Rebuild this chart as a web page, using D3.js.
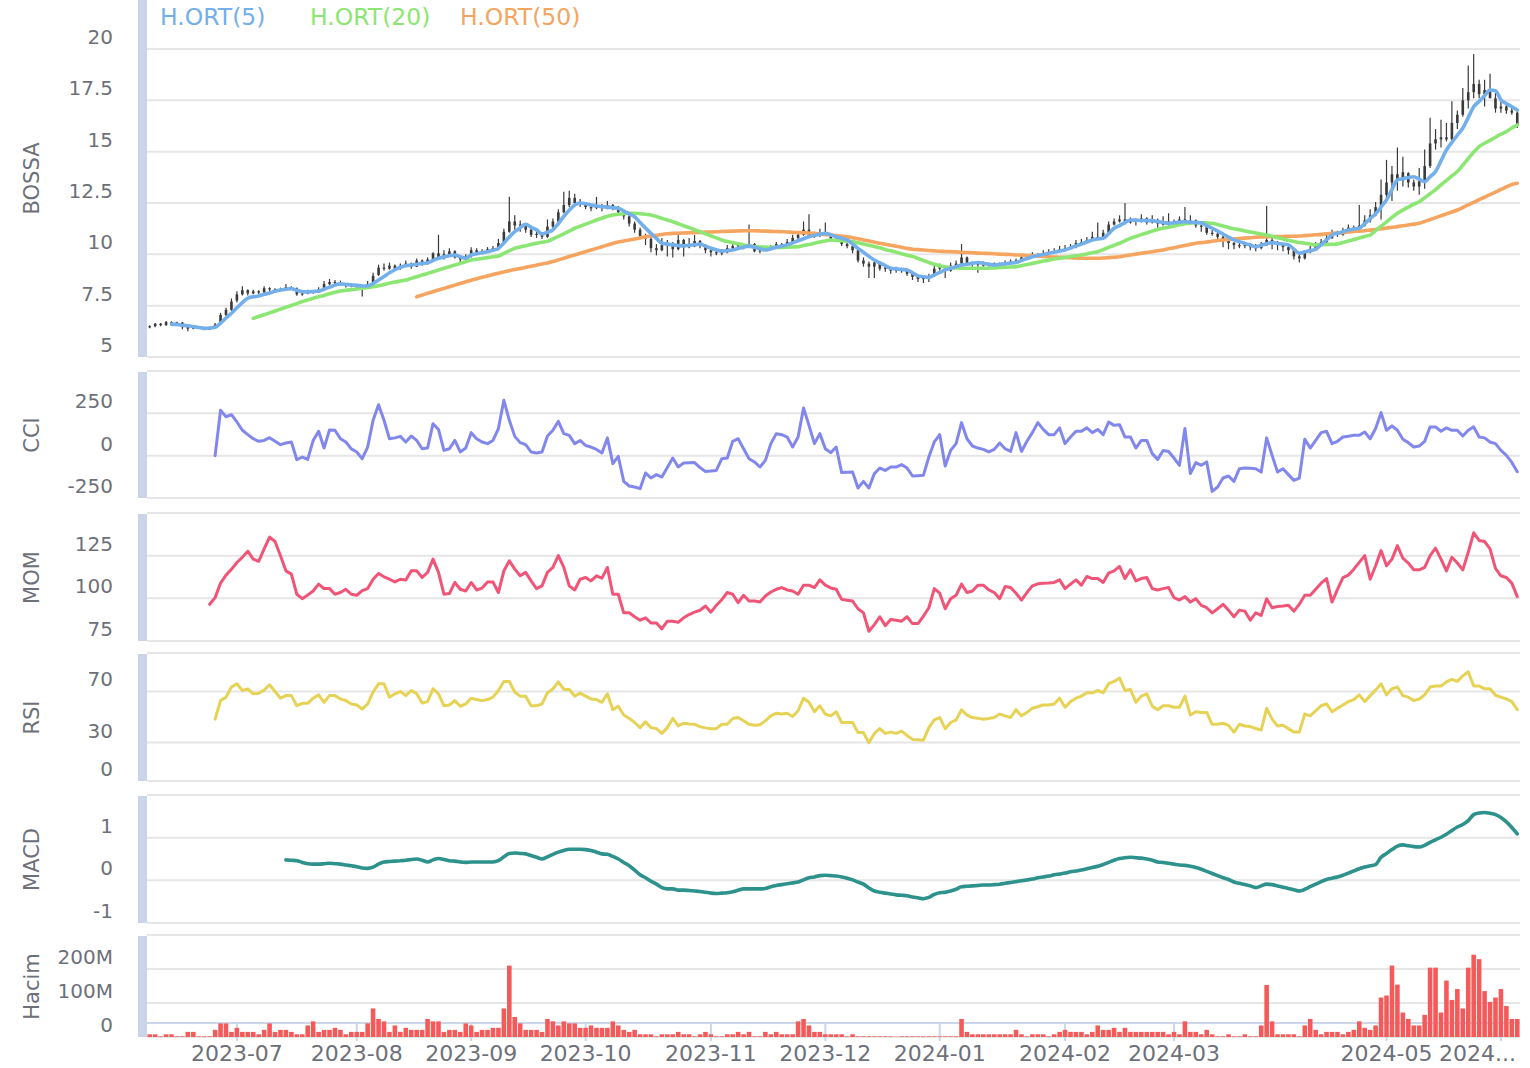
<!DOCTYPE html>
<html>
<head>
<meta charset="utf-8">
<script src="https://cdn.jsdelivr.net/npm/d3@7"></script>
<style>
body { margin: 0; background: #fff; }
#chart { width: 1530px; height: 1068px; }
text { font-family: "DejaVu Sans", sans-serif; }
</style>
</head>
<body>
<div id="chart"></div>
<script>
// ---- data (one entry per trading day, index 0 = first bar) ----
var opens = [
6.45,6.50,6.62,6.55,6.70,6.62,6.68,6.45,6.38,6.48, 6.42,6.35,6.40,6.60,7.05,7.30,7.75,8.05,8.25,8.10,
8.20,8.15,8.35,8.30,8.25,8.28,8.40,8.35,8.05,8.10, 8.20,8.15,8.30,8.55,8.65,8.60,8.55,8.45,8.50,8.40,
8.40,8.60,9.00,9.35,9.30,9.45,9.30,9.45,9.55,9.40, 9.70,9.55,9.75,10.05,9.80,10.00,10.15,9.85,9.75,9.90,
10.20,10.10,10.15,10.25,10.30,10.60,11.10,11.60,11.40,11.45, 11.20,10.95,11.00,10.85,11.35,11.60,12.05,12.40,12.75,12.50,
12.45,12.30,12.25,12.35,12.25,12.40,12.30,12.05,11.85,11.50, 11.20,10.90,10.75,10.30,10.20,10.45,10.55,10.25,10.70,10.35,
10.40,10.65,10.45,10.20,10.10,10.05,10.10,10.30,10.40,10.45, 10.35,10.50,10.15,10.20,10.25,10.35,10.50,10.45,10.60,10.80,
10.95,11.20,10.85,10.90,11.00,10.95,10.75,10.70,10.50,10.40, 10.20,9.70,9.55,9.40,9.60,9.30,9.35,9.20,9.30,9.25,
9.05,8.90,8.80,8.85,8.95,9.30,9.40,9.20,9.45,9.55, 9.85,9.55,9.50,9.60,9.45,9.50,9.55,9.50,9.60,9.65,
9.70,9.85,9.90,10.00,9.95,10.05,10.10,10.15,10.25,10.30, 10.35,10.55,10.60,10.70,10.85,10.75,11.05,11.45,11.60,11.70,
11.55,11.65,11.60,11.75,11.55,11.65,11.50,11.45,11.60,11.55, 11.70,11.50,11.65,11.40,11.35,11.05,11.00,10.85,10.70,10.55,
10.45,10.40,10.50,10.35,10.30,10.45,10.70,10.55,10.45,10.35, 10.20,9.90,9.80,10.10,10.25,10.50,10.60,10.80,11.05,10.95,
11.15,11.30,11.25,11.40,11.65,11.90,12.30,12.90,13.50,13.90, 13.60,13.95,13.50,13.30,13.55,14.30,15.40,15.60,15.70,15.60,
16.40,16.80,17.50,17.90,18.30,17.80,18.00,17.60,17.10,17.20, 17.00,16.90
];
var highs = [
6.55,6.65,6.66,6.75,6.74,6.72,6.70,6.50,6.52,6.50, 6.45,6.45,6.65,7.15,7.40,7.85,8.20,8.45,8.30,8.28,
8.25,8.45,8.40,8.35,8.38,8.55,8.45,8.38,8.20,8.28, 8.25,8.40,8.70,8.80,8.75,8.72,8.60,8.58,8.55,8.45,
8.70,9.10,9.50,9.55,9.60,9.50,9.55,9.70,9.60,9.80, 9.75,9.85,10.10,10.95,10.20,10.30,10.20,9.95,10.00,10.35,
10.30,10.25,10.35,10.40,10.75,11.25,12.80,11.90,11.65,11.50, 11.30,11.20,11.05,11.70,11.75,12.20,13.05,13.10,12.95,12.70,
12.55,12.40,12.80,12.45,12.60,12.45,12.35,12.10,11.95,11.60, 11.30,11.00,10.85,10.50,10.80,10.70,10.60,10.95,10.75,10.80,
10.95,10.70,10.50,10.30,10.20,10.25,10.45,10.55,10.60,10.50, 11.45,10.55,10.30,10.35,10.45,10.60,10.55,10.75,10.95,11.10,
11.60,11.95,11.10,11.25,11.55,11.00,10.95,10.75,10.60,10.45, 10.25,9.85,9.65,9.70,9.65,9.45,9.40,9.40,9.35,9.30,
9.10,8.95,8.95,9.05,9.45,9.55,9.45,9.60,9.70,10.50, 9.90,9.65,9.65,9.65,9.60,9.60,9.60,9.70,9.75,9.80,
9.90,10.00,10.10,10.05,10.20,10.25,10.30,10.40,10.45,10.50, 10.70,10.75,10.85,11.10,11.55,11.20,11.60,11.75,11.90,12.50,
11.80,11.75,11.95,11.80,11.90,11.75,11.85,12.00,11.70,11.85, 12.30,11.90,11.70,11.45,11.40,11.20,11.05,10.95,10.80,10.60,
10.55,10.60,10.55,10.50,10.60,12.35,10.80,10.65,10.55,10.40, 10.25,10.05,10.20,10.40,10.60,10.75,10.95,11.20,11.15,11.30,
11.45,11.40,12.40,11.90,12.20,12.55,13.65,14.60,14.30,15.20, 14.75,14.00,13.65,14.20,15.10,16.65,16.10,16.55,16.40,17.45,
17.00,18.10,19.20,19.76,18.50,18.50,18.80,17.85,17.50,17.35, 17.20,17.00
];
var lows = [
6.40,6.45,6.50,6.52,6.55,6.58,6.35,6.25,6.35,6.36, 6.30,6.32,6.38,6.58,7.00,7.25,7.65,8.00,8.00,8.05,
8.05,8.12,8.20,8.15,8.20,8.25,8.28,7.98,7.98,8.05, 8.08,8.12,8.28,8.50,8.52,8.48,8.38,8.40,8.30,7.95,
8.38,8.55,8.95,9.20,9.25,9.20,9.25,9.40,9.30,9.38, 9.45,9.50,9.70,9.75,9.75,9.95,9.80,9.60,9.70,9.85,
10.00,10.00,10.10,10.15,10.28,10.55,11.05,11.20,11.10,11.05, 10.85,10.80,10.75,10.80,11.30,11.55,12.00,12.30,12.35,12.30,
12.20,12.10,12.20,12.10,12.20,12.15,11.95,11.70,11.35,11.05, 10.75,10.45,10.10,9.95,10.15,9.90,9.85,10.20,9.90,10.30,
10.35,10.30,10.05,9.90,9.95,9.95,10.05,10.25,10.35,10.25, 10.30,10.10,10.05,10.15,10.20,10.30,10.35,10.40,10.55,10.75,
10.90,10.80,10.80,10.85,10.90,10.65,10.60,10.40,10.30,10.05, 9.60,9.40,8.85,8.85,9.20,9.15,9.05,9.10,9.10,8.95,
8.75,8.65,8.60,8.65,8.90,9.20,8.85,9.15,9.40,9.50, 9.50,9.40,9.10,9.40,9.40,9.45,9.40,9.45,9.55,9.60,
9.65,9.80,9.85,9.85,9.90,10.00,10.05,10.10,10.15,10.25, 10.30,10.45,10.55,10.65,10.70,10.70,11.00,11.40,11.55,11.45,
11.50,11.40,11.55,11.45,11.50,11.30,11.40,11.40,11.45,11.50, 11.45,11.45,11.30,11.10,10.95,10.90,10.75,10.35,10.25,10.25,
10.30,10.30,10.20,10.15,10.25,10.40,10.25,10.20,10.15,10.00, 9.75,9.60,9.75,10.05,10.20,10.45,10.55,10.75,10.85,10.90,
11.10,11.15,11.20,11.35,11.55,11.85,11.70,12.60,12.60,13.10, 13.30,13.25,13.10,12.90,13.20,14.20,15.10,15.20,15.50,15.40,
16.10,16.70,17.10,17.60,17.60,17.20,17.70,16.90,16.90,16.85, 16.80,16.15
];
var closes = [
6.50,6.62,6.55,6.70,6.62,6.68,6.45,6.38,6.48,6.42, 6.35,6.40,6.58,7.05,7.30,7.70,8.05,8.25,8.10,8.20,
8.15,8.35,8.30,8.25,8.28,8.40,8.35,8.05,8.10,8.20, 8.15,8.30,8.55,8.65,8.60,8.55,8.45,8.50,8.40,8.40,
8.55,8.95,9.35,9.30,9.45,9.30,9.45,9.55,9.40,9.70, 9.55,9.75,10.05,9.80,10.00,10.15,9.85,9.75,9.90,10.20,
10.10,10.15,10.25,10.30,10.55,11.10,11.60,11.40,11.45,11.20, 10.95,11.00,10.85,11.35,11.60,12.05,12.40,12.75,12.50,12.45,
12.30,12.25,12.35,12.25,12.40,12.30,12.05,11.85,11.50,11.20, 10.90,10.75,10.30,10.20,10.45,10.55,10.25,10.70,10.35,10.40,
10.65,10.45,10.20,10.10,10.05,10.10,10.30,10.40,10.45,10.35, 10.50,10.15,10.20,10.25,10.35,10.50,10.45,10.60,10.80,10.95,
11.20,10.85,10.90,11.00,10.95,10.75,10.70,10.50,10.40,10.20, 9.70,9.55,9.40,9.60,9.30,9.35,9.20,9.30,9.25,9.05,
8.90,8.80,8.85,8.95,9.30,9.40,9.20,9.45,9.55,9.85, 9.55,9.50,9.60,9.45,9.50,9.55,9.50,9.60,9.65,9.70,
9.85,9.90,10.00,9.95,10.05,10.10,10.15,10.25,10.30,10.35, 10.55,10.60,10.70,10.85,10.75,11.05,11.45,11.60,11.70,11.55,
11.65,11.60,11.75,11.55,11.65,11.50,11.45,11.60,11.55,11.70, 11.50,11.65,11.40,11.35,11.05,11.00,10.85,10.70,10.55,10.45,
10.40,10.50,10.35,10.30,10.45,10.70,10.55,10.45,10.35,10.20, 9.90,9.80,10.10,10.25,10.50,10.60,10.80,11.05,10.95,11.15,
11.30,11.25,11.40,11.65,11.90,12.30,12.90,13.50,13.90,13.60, 14.00,13.50,13.30,13.55,14.30,15.40,15.60,15.70,15.60,16.40,
16.80,17.50,17.90,18.30,17.80,18.00,17.60,17.10,17.20,17.00, 16.90,16.30
];

var ma5Start = 4;
var ma5 = [
6.60,6.58,6.55,6.52,6.48,6.44,6.40,6.41,6.45,6.65, 6.90,7.13,7.40,7.65,7.86,7.93,7.97,8.05,8.12,8.20,
8.26,8.30,8.33,8.25,8.18,8.17,8.19,8.21,8.30,8.40, 8.50,8.56,8.54,8.51,8.49,8.46,8.46,8.58,8.75,8.92,
9.10,9.25,9.37,9.44,9.48,9.52,9.56,9.59,9.70,9.81, 9.87,9.93,9.97,9.88,9.81,9.97,10.03,10.08,10.13,10.20,
10.29,10.55,10.85,11.10,11.30,11.46,11.32,11.19,10.99,11.08, 11.19,11.50,11.85,12.15,12.40,12.50,12.46,12.40,12.35,12.32,
12.30,12.27,12.24,12.12,11.98,11.83,11.55,11.28,11.02,10.78, 10.54,10.50,10.46,10.43,10.41,10.44,10.47,10.50,10.40,10.30,
10.22,10.16,10.18,10.21,10.28,10.35,10.41,10.34,10.27,10.21, 10.27,10.34,10.40,10.46,10.56,10.66,10.76,10.86,10.92,10.98,
11.02,10.95,10.86,10.78,10.70,10.50,10.29,10.10,9.90,9.72, 9.58,9.45,9.32,9.29,9.26,9.24,9.10,8.95,8.91,8.88,
9.00,9.12,9.24,9.32,9.40,9.48,9.52,9.56,9.60,9.56, 9.52,9.48,9.51,9.54,9.57,9.60,9.70,9.79,9.88,9.94,
9.99,10.05,10.10,10.16,10.21,10.31,10.41,10.50,10.60,10.70, 10.75,10.78,11.00,11.27,11.40,11.55,11.67,11.66,11.65,11.64,
11.64,11.60,11.55,11.51,11.54,11.57,11.59,11.57,11.55,11.54, 11.40,11.27,11.13,10.99,10.84,10.70,10.62,10.53,10.45,10.37,
10.44,10.51,10.57,10.53,10.50,10.46,10.25,10.05,10.12,10.18, 10.24,10.48,10.71,10.94,11.03,11.10,11.18,11.23,11.27,11.50,
11.74,11.97,12.30,12.65,13.15,13.62,13.68,13.74,13.78,13.66, 13.54,13.78,14.03,14.55,15.08,15.45,15.80,16.14,16.66,17.19,
17.45,17.72,18.00,17.97,17.52,17.35,17.19,17.03
];
var ma20Start = 19;
var ma20 = [
6.88,6.97,7.06,7.15,7.24,7.33,7.42,7.51,7.60,7.70, 7.78,7.86,7.93,8.00,8.08,8.15,8.21,8.25,8.28,8.31,
8.35,8.39,8.42,8.47,8.53,8.59,8.65,8.70,8.75,8.83, 8.91,8.99,9.07,9.15,9.24,9.32,9.40,9.48,9.56,9.64,
9.72,9.76,9.80,9.84,9.88,9.92,10.05,10.17,10.29,10.36, 10.42,10.48,10.54,10.59,10.63,10.75,10.88,11.00,11.13,11.27,
11.37,11.47,11.57,11.67,11.76,11.85,11.92,11.95,11.98,12.00, 12.00,11.98,11.95,11.92,11.84,11.75,11.67,11.59,11.49,11.39,
11.30,11.20,11.10,11.00,10.90,10.80,10.70,10.62,10.57,10.52, 10.46,10.41,10.37,10.36,10.35,10.34,10.34,10.34,10.35,10.36,
10.37,10.43,10.48,10.54,10.60,10.65,10.70,10.68,10.66,10.64, 10.62,10.56,10.50,10.44,10.38,10.32,10.24,10.17,10.10,10.03,
9.96,9.90,9.80,9.70,9.60,9.52,9.44,9.38,9.35,9.34, 9.33,9.32,9.32,9.32,9.32,9.33,9.34,9.36,9.37,9.38,
9.40,9.45,9.50,9.56,9.61,9.67,9.72,9.77,9.81,9.85, 9.89,9.93,9.97,10.02,10.08,10.13,10.23,10.34,10.44,10.54,
10.66,10.78,10.87,10.96,11.04,11.13,11.21,11.28,11.32,11.38, 11.44,11.49,11.52,11.54,11.54,11.53,11.51,11.45,11.38,11.31,
11.25,11.20,11.14,11.09,11.04,10.99,10.94,10.88,10.81,10.75, 10.68,10.62,10.58,10.54,10.50,10.46,10.47,10.48,10.49,10.51,
10.58,10.65,10.72,10.80,10.87,10.94,11.15,11.37,11.58,11.80, 12.00,12.15,12.30,12.44,12.56,12.75,12.95,13.15,13.38,13.60,
13.82,14.03,14.34,14.66,14.98,15.25,15.41,15.55,15.70,15.85, 15.98,16.15,16.30
];
var ma50Start = 49;
var ma50 = [
7.93,8.02,8.10,8.18,8.26,8.34,8.42,8.50,8.58,8.66, 8.74,8.81,8.88,8.95,9.02,9.08,9.14,9.20,9.26,9.31,
9.36,9.42,9.47,9.53,9.58,9.65,9.73,9.81,9.89,9.97, 10.05,10.13,10.21,10.29,10.37,10.45,10.53,10.60,10.65,10.70,
10.75,10.80,10.85,10.89,10.93,10.97,11.00,11.02,11.03,11.04, 11.05,11.06,11.07,11.08,11.09,11.10,11.11,11.12,11.13,11.14,
11.15,11.15,11.15,11.14,11.13,11.12,11.11,11.10,11.09,11.07, 11.06,11.05,11.04,11.02,10.99,10.96,10.94,10.91,10.88,10.86,
10.81,10.76,10.70,10.65,10.59,10.54,10.49,10.44,10.39,10.34, 10.29,10.25,10.23,10.21,10.19,10.17,10.15,10.14,10.13,10.12,
10.10,10.09,10.08,10.06,10.05,10.04,10.03,10.01,10.00,9.99, 9.97,9.96,9.94,9.93,9.91,9.90,9.88,9.87,9.86,9.85,
9.83,9.82,9.81,9.81,9.81,9.81,9.82,9.84,9.86,9.88, 9.93,9.97,10.01,10.05,10.09,10.13,10.17,10.21,10.27,10.32,
10.38,10.43,10.49,10.54,10.57,10.60,10.64,10.67,10.70,10.73, 10.75,10.77,10.79,10.81,10.83,10.85,10.86,10.86,10.87,10.87,
10.88,10.88,10.89,10.91,10.93,10.95,10.97,11.00,11.02,11.04, 11.06,11.09,11.11,11.13,11.15,11.18,11.21,11.25,11.28,11.32,
11.35,11.39,11.43,11.47,11.51,11.60,11.69,11.79,11.88,11.97, 12.06,12.16,12.28,12.41,12.53,12.66,12.78,12.91,13.03,13.16,
13.28,13.40,13.46
];

var cciStart = 12;
var cci = [
0,268,230,242,199,150,124,100,85,90, 106,85,65,75,81,-24,-8,-22,90,144,
45,152,150,100,81,40,22,-18,51,209, 301,209,100,105,114,81,116,90,41,45,
189,155,31,41,90,22,45,136,100,81, 71,90,160,327,209,114,77,65,22,16,
22,116,150,203,130,120,71,90,60,51, 37,16,105,-47,-4,-152,-179,-185,-195,-102,
-132,-112,-126,-70,-14,-67,-43,-42,-41,-70, -93,-90,-87,-18,-14,85,100,41,-18,-37,
-67,-28,71,130,124,110,51,110,282,179, 71,130,41,18,51,-100,-98,-97,-191,-152,
-191,-106,-73,-87,-67,-67,-53,-73,-120,-118, -116,-8,81,124,-61,31,71,195,100,57,
45,37,22,37,75,41,25,136,25,85, 136,195,155,124,124,164,71,110,144,144,
164,136,155,124,199,179,183,110,110,45, 90,90,12,-22,31,25,-14,-57,160,-106,
-41,-57,-37,-211,-185,-132,-120,-152,-77,-73, -75,-77,-97,105,2,-97,-77,-112,-146,-132,
97,45,90,136,144,71,85,110,115,120, 120,140,100,160,254,150,176,150,97,77,
51,57,85,170,170,144,164,150,150,116, 150,170,110,105,81,71,31,2,-40,-95
];
var momStart = 11;
var mom = [
96.5,100.4,108.9,113.6,117,121,124,127.6,123,121.7, 129,135.9,133.3,125,116.1,114.2,102.4,99.8,102,104.3,
108.3,105.7,105.7,102.4,103.4,105.3,102.4,101.8,104.5,105.7, 111.2,114.6,112.6,111.2,109.6,111.2,110.8,116.1,116.1,112.2,
115.2,123,115.2,102.4,102.8,109.3,105.3,104.3,109.3,104.9, 106,109.6,109.6,103.4,116.1,122,117.1,113.2,115.2,110.2,
105.7,107.3,115.2,118.1,125,118.1,107.3,104.9,111.2,112.2, 110.2,113.2,111.8,118.1,102.4,102.4,91.5,91.5,89.2,87.2,
88.6,85.6,85.6,82.1,86.6,86.6,86,88.6,90.5,91.9, 93,95.5,91.9,95.9,99.2,103.4,102.4,97.5,101.8,98.4,
98.4,97.8,101.4,103.7,105.3,106.3,104.9,104.3,102.4,107.7, 107.7,106.3,110.8,107.7,106.1,105.3,99.4,98.9,98.4,93.9,
91.5,80.7,84.6,89.2,84,87.6,87.2,86.6,89.2,85.2, 85.2,89.5,94.5,105.7,103,93.9,99.8,101.8,108.3,103.4,
104.3,107.7,107.7,105,103.4,99.8,106.9,106.3,103,99, 103.4,107.3,108.5,108.9,109,109.3,110.8,105.7,108.3,110.8,
107.7,112.8,111.6,111.6,109.3,114.8,116.1,118.7,111.6,116.7, 110.2,111.6,112.2,105.7,104.9,105.7,106.3,100.4,99,101,
97.8,99.8,95.9,94.5,91.5,93.9,96.5,93.1,89.2,93.1, 92.5,87.2,91.5,90,99.8,94.5,95.2,95.5,95.9,92.5,
96.5,101.8,101.8,105.3,108.9,111.6,97.8,105.3,112.2,113.6, 117.1,121.1,125,111.2,119.1,128,119.1,123,130.9,123.5,
120.7,116.7,116.7,118.1,125,129.4,123,116.1,124.1,120.7, 116.7,127,138.4,133.9,133.3,129,117.6,113.2,112.2,108.9,
101
];
var rsiStart = 12;
var rsi = [
48.3,62.8,65.5,73.4,76,70.7,72,68.1,68.6,71, 75.2,69.9,64.7,66.7,66.7,58.8,60.7,60.7,64.7,67.3,
61.5,66.7,66.7,64.1,62.8,60.2,59.4,56.2,60.2,69.4, 76,76,65.5,68.1,69.9,66.7,70.7,68.1,61,62,
72,68.1,58.8,59.4,62.8,58.4,60.2,64.7,63.6,62.8, 63.6,65.5,70.7,77.8,77.8,69.4,66.3,66.3,58.8,58.8,
60.2,68.9,72,77.4,71.5,71.5,66.3,68.6,66.3,64.1, 63.6,61.5,68.1,55.7,58.4,51.5,48.9,45.7,41.7,46.2,
41.7,40.9,37.2,41.7,48.9,43,45.1,44.5,44.3,42.5, 41.5,40.9,40.9,44.3,44.3,48.9,49.6,47,44.3,43.5,
44,47,50.9,53,52.3,53,50.4,54.9,64.7,61.5, 54.1,58.8,52.3,50.9,54.1,45.7,45.7,45.7,37.8,37.8,
29.9,37.2,40.9,37.2,38.2,37.2,39,35.6,32.5,32.2, 31.9,41.7,47.7,49.6,40.9,45.7,47.7,55.7,51.5,49.6,
49,48.3,48.9,49.6,52.3,50.9,49.6,55.7,50.9,53.6, 56.8,58,59.4,59.4,60.2,64.7,57.6,62,64.7,66.3,
68.9,68.9,70.7,68.9,76,77.8,80.5,70.7,71.5,61.5, 66.3,68.1,58.4,55.7,58.8,58.8,57.6,57.6,66.3,51.5,
54.1,53.6,53.6,44.3,44.3,45.1,43.5,38.2,44.3,43, 42.5,41,39.8,56.8,48.3,43,43.5,40.9,38.2,38.2,
52.3,50.9,54.9,58.8,60.2,54.1,56.8,59.4,62,63.6, 67.3,62,66.7,71,76,67.3,72,73.4,66.7,65.5,
62.8,64.1,67.3,73.4,74.2,74.2,77.4,79.4,77.8,82.1, 85.3,74.2,74.2,72,72,67,65.5,64.1,62,55.7
];
var macdStart = 25;
var macd = [
0.48,0.47,0.46,0.42,0.39,0.38,0.38,0.39,0.40,0.39, 0.38,0.36,0.34,0.32,0.29,0.28,0.31,0.38,0.43,0.44,
0.45,0.46,0.47,0.49,0.50,0.47,0.43,0.48,0.51,0.49, 0.46,0.45,0.43,0.42,0.43,0.43,0.43,0.43,0.43,0.46,
0.55,0.63,0.64,0.63,0.62,0.58,0.54,0.50,0.55,0.61, 0.66,0.70,0.73,0.73,0.73,0.72,0.70,0.66,0.62,0.61,
0.56,0.50,0.42,0.34,0.24,0.13,0.06,-0.02,-0.09,-0.17, -0.20,-0.20,-0.23,-0.23,-0.24,-0.25,-0.26,-0.28,-0.30,-0.31,
-0.30,-0.29,-0.27,-0.23,-0.20,-0.20,-0.20,-0.20,-0.19,-0.15, -0.12,-0.10,-0.08,-0.06,-0.04,0.01,0.06,0.08,0.11,0.12,
0.11,0.10,0.08,0.05,0.01,-0.04,-0.09,-0.18,-0.25,-0.28, -0.30,-0.32,-0.34,-0.35,-0.36,-0.39,-0.41,-0.43,-0.40,-0.33,
-0.29,-0.28,-0.25,-0.21,-0.15,-0.14,-0.13,-0.12,-0.11,-0.11, -0.10,-0.09,-0.07,-0.05,-0.03,-0.01,0.01,0.03,0.06,0.08,
0.10,0.13,0.15,0.17,0.20,0.22,0.24,0.27,0.30,0.33, 0.37,0.42,0.47,0.51,0.53,0.54,0.53,0.52,0.50,0.47,
0.43,0.42,0.40,0.38,0.36,0.35,0.33,0.30,0.26,0.21, 0.16,0.11,0.06,0.02,-0.04,-0.07,-0.10,-0.13,-0.17,-0.13,
-0.09,-0.10,-0.13,-0.16,-0.19,-0.22,-0.25,-0.21,-0.15,-0.09, -0.03,0.02,0.05,0.08,0.12,0.17,0.22,0.27,0.31,0.34,
0.37,0.54,0.63,0.72,0.80,0.83,0.81,0.79,0.78,0.82, 0.89,0.95,1.01,1.08,1.17,1.25,1.31,1.40,1.54,1.58,
1.59,1.57,1.54,1.47,1.37,1.24,1.09
];
// volume in millions
var volume = [
8,8,2,8,8,2,2,15,15,2, 2,2,21,40,40,15,27,15,15,15,
8,21,40,15,21,21,15,8,8,34, 46,15,21,21,27,21,8,15,15,15,
40,84,53,46,15,34,15,27,21,21, 21,53,46,46,15,21,21,15,40,34,
15,21,21,27,27,84,210,59,40,21, 21,21,15,53,46,34,46,40,40,27,
27,34,27,27,27,46,34,21,15,21, 8,8,8,2,8,8,8,15,8,8,
2,8,15,8,2,2,8,8,15,8, 15,2,2,15,8,15,8,8,8,46,
53,34,15,15,8,8,8,8,2,8, 2,2,2,2,2,2,2,1,2,2,
2,2,2,2,2,2,2,2,2,53, 15,8,8,8,8,8,8,8,8,21,
8,2,8,8,8,2,8,15,21,15, 15,15,8,15,34,21,21,27,15,27,
15,15,15,15,15,15,15,8,15,8, 46,15,15,8,21,8,2,2,8,2,
2,8,2,2,34,153,46,8,8,8, 8,2,34,53,21,8,15,15,15,8,
15,21,46,27,21,34,116,122,210,154, 72,53,34,34,65,204,204,72,166,109,
141,84,204,242,229,135,103,116,141,91, 53,53
];

// x axis months: label and the bar index where the month starts
var monthLabels = ["2023-07","2023-08","2023-09","2023-10","2023-11","2023-12","2024-01","2024-02","2024-03","2024-05","2024-06"];
var monthIdx = [16, 38, 59, 80, 103, 124, 145, 168, 188, 227, 248];

// y ticks (grid lines) and the ones that get a label
var priceTicks = [5, 7.5, 10, 12.5, 15, 17.5, 20];
var cciTicks = [-250, 0, 250, 500], cciLabels = [-250, 0, 250];
var momTicks = [75, 100, 125, 150], momLabels = [75, 100, 125];
var rsiTicks = [0, 30, 70, 100], rsiLabels = [0, 30, 70];
var macdTicks = [-1, 0, 1, 2], macdLabels = [-1, 0, 1];
var volTicks = [0, 100, 200, 300], volLabels = [0, 100, 200];

var legendNames = ["H.ORT(5)", "H.ORT(20)", "H.ORT(50)"];

// ---- drawing ----
var W = 1530, H = 1068;
var plotL = 147, plotR = 1520;
var N = closes.length;
var grey = "#6e7079";
var colors = {ma5: "#73afeb", ma20: "#8ce673", ma50: "#f5a55f", cci: "#8287eb",
              mom: "#f05578", rsi: "#e6d255", macd: "#2d918c", vol: "#f55a5a"};

var svg = d3.select('#chart').append('svg')
    .attr('width', W)
    .attr('height', H);

var x = d3.scaleBand()
    .domain(d3.range(N))
    .range([plotL, plotR])
    .paddingInner(0.16)
    .paddingOuter(0.08);
var bw = x.bandwidth();
function cx(i) { return x(i) + bw / 2; }

var panels = [
  {name: "BOSSA", barTop: 0,   domain: [5, 20],      range: [357, 49],  ticks: priceTicks, labels: priceTicks, fmt: function(d){ return d; }},
  {name: "CCI",   barTop: 372, domain: [-250, 500],  range: [498, 371], ticks: cciTicks,   labels: cciLabels,  fmt: function(d){ return d; }},
  {name: "MOM",   barTop: 514, domain: [75, 150],    range: [641, 513], ticks: momTicks,   labels: momLabels,  fmt: function(d){ return d; }},
  {name: "RSI",   barTop: 654, domain: [0, 100],     range: [781, 653], ticks: rsiTicks,   labels: rsiLabels,  fmt: function(d){ return d; }},
  {name: "MACD",  barTop: 796, domain: [-1, 2],      range: [923, 795], ticks: macdTicks,  labels: macdLabels, fmt: function(d){ return d; }},
  {name: "Hacim", barTop: 936, domain: [0, 300],     range: [1037, 935], ticks: volTicks,  labels: volLabels,  fmt: function(d){ return d === 0 ? "0" : d + "M"; }}
];

panels.forEach(function(p) {
  p.y = d3.scaleLinear().domain(p.domain).range(p.range);
  var g = svg.append('g').attr('class', 'panel');

  g.selectAll('line.grid')
      .data(p.ticks)
      .enter().append('line')
      .attr('class', 'grid')
      .attr('x1', plotL).attr('x2', plotR)
      .attr('y1', function(d){ return p.y(d); })
      .attr('y2', function(d){ return p.y(d); })
      .style('stroke', '#e6e6e6')
      .style('stroke-width', 2);

  g.append('rect')
      .attr('x', 138).attr('y', p.barTop)
      .attr('width', 9).attr('height', p.range[0] - p.barTop)
      .style('fill', '#cbd5ea');

  g.selectAll('text.tick')
      .data(p.labels)
      .enter().append('text')
      .attr('class', 'tick')
      .attr('x', 113)
      .attr('y', function(d){ return p.y(d) - 12; })
      .attr('text-anchor', 'end')
      .attr('dominant-baseline', 'central')
      .style('font-size', '20px')
      .style('fill', grey)
      .text(p.fmt);

  var mid = (p.barTop + p.range[0]) / 2;
  g.append('text')
      .attr('transform', 'translate(32,' + mid + ') rotate(-90)')
      .attr('text-anchor', 'middle')
      .attr('dominant-baseline', 'central')
      .style('font-size', '21px')
      .style('fill', grey)
      .text(p.name);
});

var yP = panels[0].y, yC = panels[1].y, yM = panels[2].y, yR = panels[3].y, yD = panels[4].y, yV = panels[5].y;

// candles
var candles = svg.append('g').attr('class', 'candles');
candles.selectAll('line')
    .data(d3.range(N))
    .enter().append('line')
    .attr('x1', cx).attr('x2', cx)
    .attr('y1', function(i){ return yP(highs[i]); })
    .attr('y2', function(i){ return yP(lows[i]); })
    .style('stroke', '#3a3a3a')
    .style('stroke-width', 1.2);
candles.selectAll('rect')
    .data(d3.range(N))
    .enter().append('rect')
    .attr('x', function(i){ return cx(i) - 1.3; })
    .attr('width', 2.6)
    .attr('y', function(i){ return yP(Math.max(opens[i], closes[i])); })
    .attr('height', function(i){ return Math.max(1.2, Math.abs(yP(opens[i]) - yP(closes[i]))); })
    .style('fill', '#3a3a3a');

function series(arr, start) {
  return arr.map(function(v, k){ return {i: start + k, v: v}; });
}
function drawLine(data, yScale, color, width, curve) {
  var line = d3.line()
      .x(function(d){ return cx(d.i); })
      .y(function(d){ return yScale(d.v); })
      .curve(curve || d3.curveLinear);
  svg.append('path')
      .datum(data)
      .attr('d', line)
      .style('fill', 'none')
      .style('stroke', color)
      .style('stroke-width', width)
      .style('stroke-linejoin', 'round')
      .style('stroke-linecap', 'round');
}

drawLine(series(ma50, ma50Start), yP, colors.ma50, 3.6, d3.curveMonotoneX);
drawLine(series(ma20, ma20Start), yP, colors.ma20, 3.6, d3.curveMonotoneX);
drawLine(series(ma5, ma5Start), yP, colors.ma5, 3.6, d3.curveMonotoneX);

drawLine(series(cci, cciStart), yC, colors.cci, 3);
drawLine(series(mom, momStart), yM, colors.mom, 3);
drawLine(series(rsi, rsiStart), yR, colors.rsi, 3);
drawLine(series(macd, macdStart), yD, colors.macd, 3.6, d3.curveMonotoneX);

// volume x axis line + month ticks
svg.append('line')
    .attr('x1', plotL).attr('x2', plotR)
    .attr('y1', 1023).attr('y2', 1023)
    .style('stroke', '#ccd6eb').style('stroke-width', 2);
svg.selectAll('line.mtick')
    .data(monthIdx)
    .enter().append('line')
    .attr('class', 'mtick')
    .attr('x1', function(i){ return cx(i); })
    .attr('x2', function(i){ return cx(i); })
    .attr('y1', 1023).attr('y2', 1041)
    .style('stroke', '#ccd6eb').style('stroke-width', 2);

svg.append('g').selectAll('rect')
    .data(d3.range(N))
    .enter().append('rect')
    .attr('x', function(i){ return x(i); })
    .attr('width', bw)
    .attr('y', function(i){ return yV(volume[i]); })
    .attr('height', function(i){ return yV(0) - yV(volume[i]); })
    .style('fill', colors.vol);

// month labels; the last one is cut short where it runs past the plot
var maxLabelW = 80;
var mlab = svg.append('g').selectAll('text')
    .data(monthIdx)
    .enter().append('text')
    .attr('x', function(i){ return cx(i); })
    .attr('y', 1053)
    .attr('text-anchor', 'middle')
    .attr('dominant-baseline', 'central')
    .style('font-size', '22px')
    .style('fill', grey)
    .text(function(d, k){ return monthLabels[k]; });
mlab.each(function(d, k) {
  var t = d3.select(this);
  if (cx(d) + this.getComputedTextLength() / 2 > plotR) {
    var s = monthLabels[k];
    while (s.length > 1) {
      s = s.slice(0, -1);
      t.text(s + "...");
      if (this.getComputedTextLength() <= maxLabelW) break;
    }
    t.attr('text-anchor', 'end').attr('x', plotR - 4);
  }
});

// legend
var legX = [160, 310, 460];
svg.append('g').selectAll('text')
    .data(legendNames)
    .enter().append('text')
    .attr('x', function(d, k){ return legX[k]; })
    .attr('y', 17)
    .attr('dominant-baseline', 'central')
    .style('font-size', '23.5px')
    .style('fill', function(d, k){ return [colors.ma5, colors.ma20, colors.ma50][k]; })
    .text(function(d){ return d; });
</script>
</body>
</html>
